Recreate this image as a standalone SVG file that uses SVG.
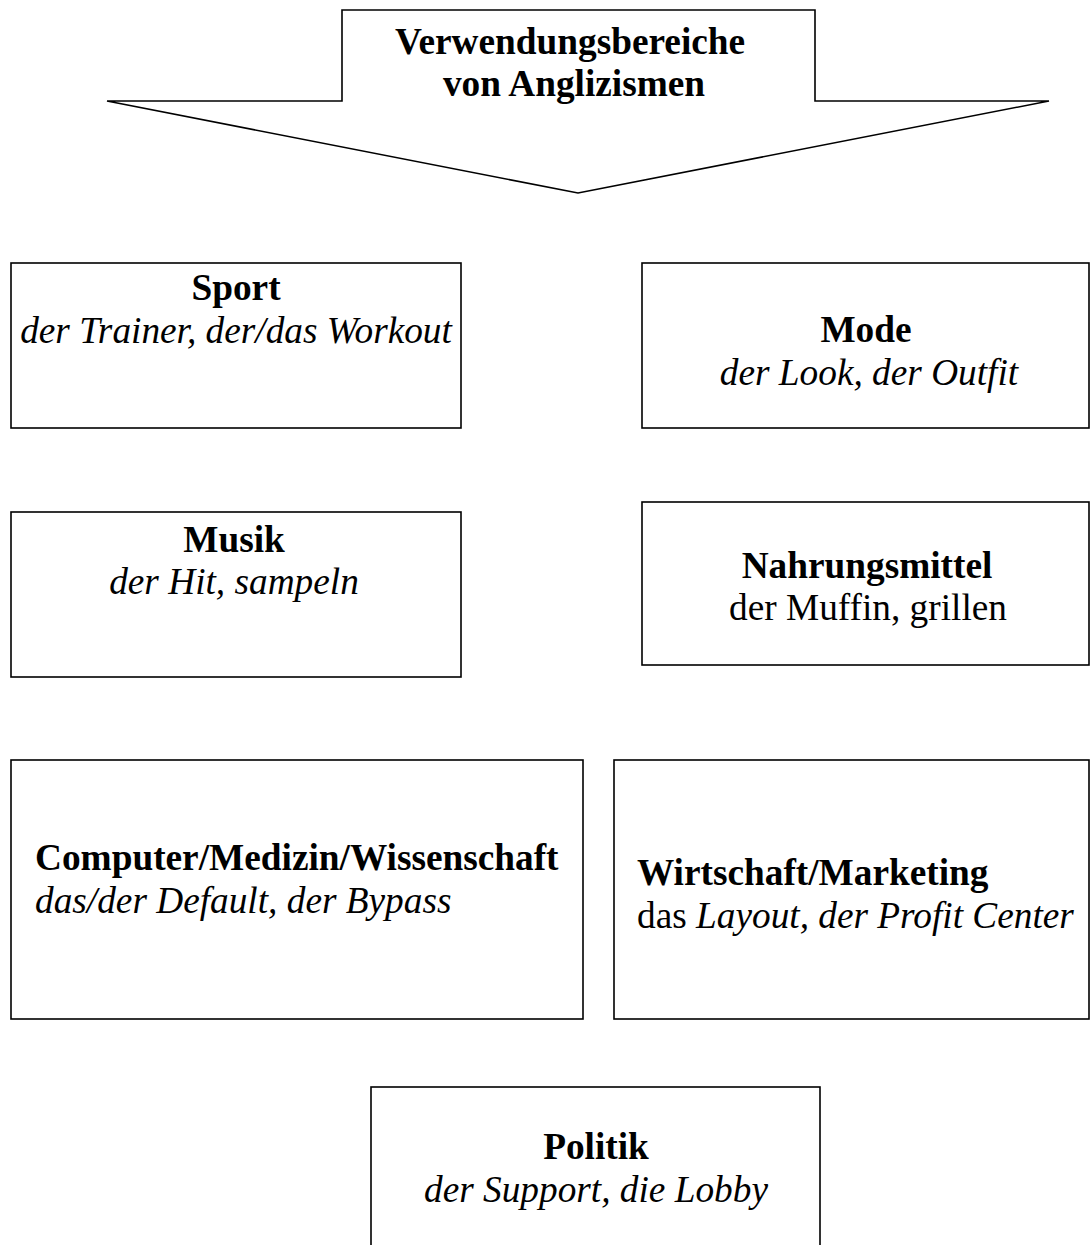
<svg xmlns="http://www.w3.org/2000/svg" width="1091" height="1245" viewBox="0 0 1091 1245">
<style>
.box{fill:#fff;stroke:#000;stroke-width:1.6}
text{font-family:"Liberation Serif","Times New Roman",serif;font-size:37.3px;fill:#000}
.b{font-weight:bold}
.i{font-style:italic}
.c{text-anchor:middle}
</style>
<rect width="1091" height="1245" fill="#fff"/>
<g id="title">
<polygon class="box" points="342,10 815,10 815,101 1049,101 578,193 107,101 342,101"/>
<text class="b c" x="570" y="54">Verwendungsbereiche</text>
<text class="b c" x="574" y="96">von Anglizismen</text>
</g>
<g id="connectors"></g>
<g id="sport">
<rect class="box" x="11" y="263" width="450" height="165"/>
<text class="b c" x="236" y="300">Sport</text>
<text class="i c" x="236" y="343">der Trainer, der/das Workout</text>
</g>
<g id="mode">
<rect class="box" x="642" y="263" width="447" height="165"/>
<text class="b c" x="866" y="342">Mode</text>
<text class="i c" x="869" y="385">der Look, der Outfit</text>
</g>
<g id="musik">
<rect class="box" x="11" y="512" width="450" height="165"/>
<text class="b c" x="234" y="552">Musik</text>
<text class="i c" x="234" y="594">der Hit, sampeln</text>
</g>
<g id="nahrungsmittel">
<rect class="box" x="642" y="502" width="447" height="163"/>
<text class="b c" x="867" y="578">Nahrungsmittel</text>
<text class="c" x="868" y="620">der Muffin, grillen</text>
</g>
<g id="computer">
<rect class="box" x="11" y="760" width="572" height="259"/>
<text class="b" x="35" y="870">Computer/Medizin/Wissenschaft</text>
<text class="i" x="35" y="913">das/der Default, der Bypass</text>
</g>
<g id="wirtschaft">
<rect class="box" x="614" y="760" width="475" height="259"/>
<text class="b" x="637" y="885">Wirtschaft/Marketing</text>
<text x="637" y="928">das <tspan class="i">Layout, der Profit Center</tspan></text>
</g>
<g id="politik">
<rect class="box" x="371" y="1087" width="449" height="180"/>
<text class="b c" x="596" y="1159">Politik</text>
<text class="i c" x="596" y="1202">der Support, die Lobby</text>
</g>
</svg>
